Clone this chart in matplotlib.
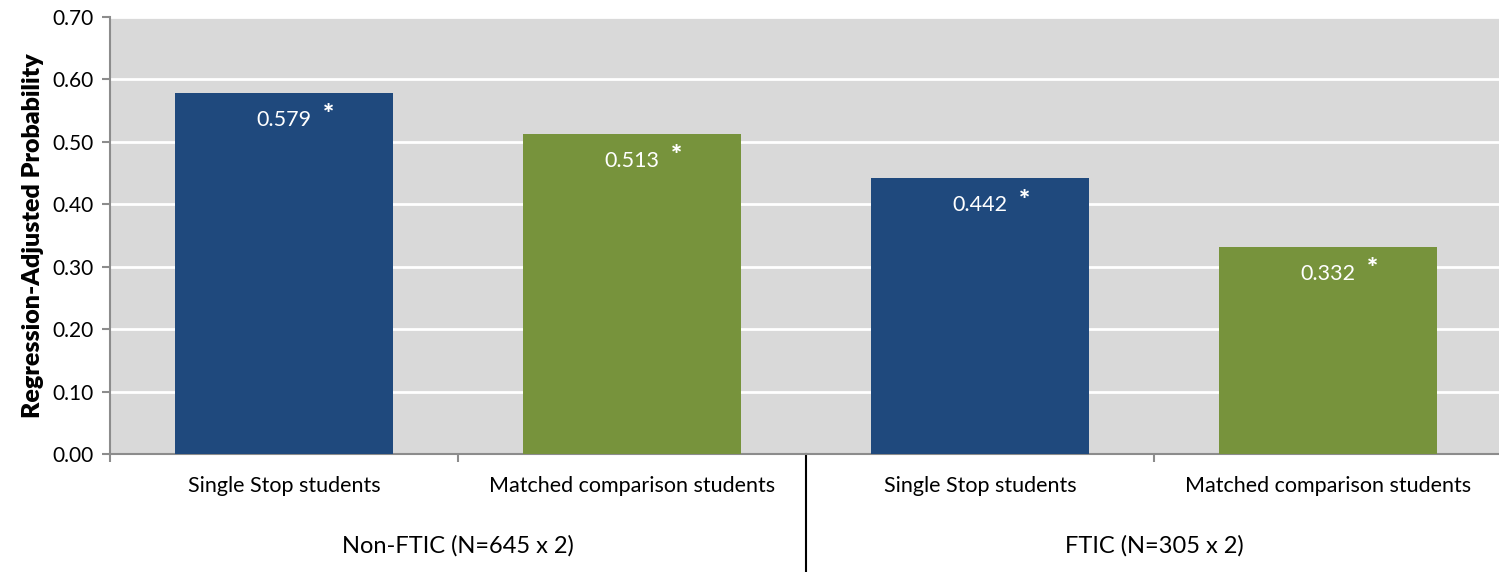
import matplotlib
matplotlib.use("Agg")
import matplotlib.pyplot as plt
from matplotlib.lines import Line2D

plt.rcParams['font.family'] = ['Lato', 'DejaVu Sans']

# data
categories = ["Single Stop students", "Matched comparison students",
              "Single Stop students", "Matched comparison students"]
groups = ["Non-FTIC (N=645 x 2)", "FTIC (N=305 x 2)"]
values = [0.579, 0.513, 0.442, 0.332]
value_labels = ["0.579", "0.513", "0.442", "0.332"]
y_ticks = [0.0, 0.1, 0.2, 0.3, 0.4, 0.5, 0.6, 0.7]

blue = "#1F497D"
green = "#77933C"
colors = [blue, green, blue, green]

fig = plt.figure(figsize=(14.99, 5.72), dpi=100)
ax = fig.add_axes([110 / 1499, 1 - 454 / 572, 1392 / 1499, 437 / 572])
ax.set_facecolor("#D9D9D9")

x = list(range(len(values)))
ax.bar(x, values, width=0.627, color=colors, zorder=3)

ax.set_xlim(-0.5, 3.5)
ax.set_ylim(0, 0.7)
ax.set_yticks(y_ticks)
ax.set_yticklabels([f"{t:.2f}" for t in y_ticks], fontsize=15)
ax.yaxis.grid(True, color="white", linewidth=2, zorder=0)
ax.set_axisbelow(True)

ax.set_ylabel("Regression-Adjusted Probability", fontsize=18, fontweight="heavy", labelpad=6)

for side in ["top", "right"]:
    ax.spines[side].set_visible(False)
for side in ["left", "bottom"]:
    ax.spines[side].set_color("#8C8C8C")
    ax.spines[side].set_linewidth(1.5)
ax.tick_params(axis="y", length=6, width=1.5, color="#8C8C8C", pad=6)

# boundary ticks on x axis
ax.set_xticks([-0.5, 0.5, 2.5])
ax.set_xticklabels([])
ax.tick_params(axis="x", length=6, width=1.5, color="#8C8C8C")

# value labels inside bars
for xi, v, lab in zip(x, values, value_labels):
    ax.annotate(lab, (xi, v), xytext=(0, -24), textcoords="offset points",
                ha="center", va="baseline", color="white", fontsize=15.5)
    ax.annotate("*", (xi, v), xytext=(32, -22), textcoords="offset points",
                ha="center", va="baseline", color="white", fontsize=19, fontweight="heavy")

# category labels
for xi, c in zip(x, categories):
    ax.annotate(c, (xi, 0), xytext=(0, -23), textcoords="offset points",
                ha="center", va="center", fontsize=15.5, annotation_clip=False)

# group labels
for gx, g in zip([0.5, 2.5], groups):
    ax.annotate(g, (gx, 0), xytext=(0, -66), textcoords="offset points",
                ha="center", va="center", fontsize=17, annotation_clip=False)

# group divider
ax.add_line(Line2D([1.5, 1.5], [0, -0.19], color="black", linewidth=1.5, clip_on=False,
                   transform=ax.transData))

fig.savefig("out.png", dpi=100)
